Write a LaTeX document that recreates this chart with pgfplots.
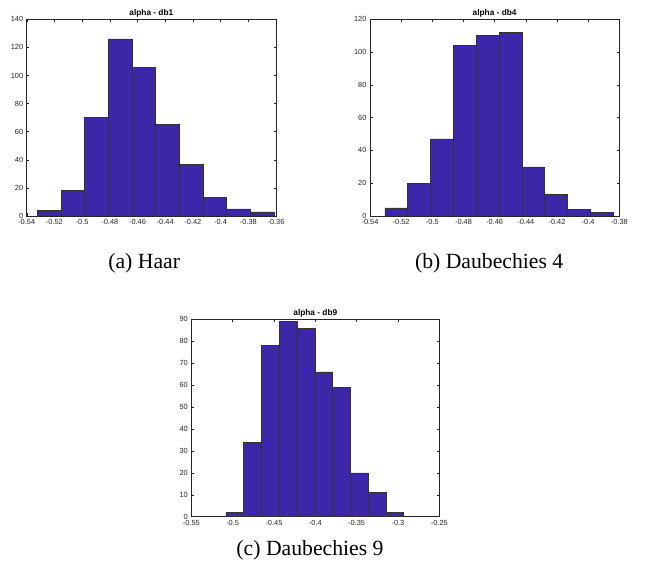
\documentclass[border=0pt]{standalone}
\usepackage{fontspec}
\setmainfont{Liberation Serif}
\newfontfamily\arial{Liberation Sans}
\usepackage{pgfplots}
\pgfplotsset{compat=1.18}
\definecolor{mgray}{RGB}{38,38,38}
\definecolor{barc}{RGB}{62,38,168}

\pgfplotsset{hist/.style={
    scale only axis, anchor=south west,
    width=249.3pt, height=196.7pt,
    ymin=0,
    axis line style={draw=mgray, line width=0.5pt},
    tick style={draw=mgray, line width=0.4pt},
    major tick length=2.5pt,
    tick align=inside,
    tick label style={font=\arial\fontsize{7.4}{8}\selectfont, text=mgray},
    /pgf/number format/assume math mode=true,
    title style={font=\arial\bfseries\fontsize{8.3}{9}\selectfont, yshift=-7pt},
    x tick label as interval=false,
}}
\pgfplotsset{histbar/.style={ybar interval, fill=barc, draw=black!80, line width=0.5pt}}

\begin{document}
\begin{tikzpicture}
\useasboundingbox (0,0) rectangle (646pt,577pt);

% (a) Haar
\begin{axis}[hist, at={(26.7pt,361pt)},
    title={alpha - db1},
    xmin=-0.54, xmax=-0.36, ymax=140,
    xtick={-0.54,-0.52,-0.50,-0.48,-0.46,-0.44,-0.42,-0.40,-0.38,-0.36},
    xticklabels={-0.54,-0.52,-0.5,-0.48,-0.46,-0.44,-0.42,-0.4,-0.38,-0.36},
    ytick={0,20,...,140}]
\addplot[histbar] coordinates {
    (-0.5323,4) (-0.5152,18) (-0.4981,70) (-0.4811,126) (-0.4640,106)
    (-0.4469,65) (-0.4298,37) (-0.4127,13) (-0.3957,5) (-0.3786,3)
    (-0.3615,3)};
\end{axis}

% (b) Daubechies 4
\begin{axis}[hist, at={(370pt,361pt)},
    title={alpha - db4},
    xmin=-0.54, xmax=-0.38, ymax=120,
    xtick={-0.54,-0.52,-0.50,-0.48,-0.46,-0.44,-0.42,-0.40,-0.38},
    xticklabels={-0.54,-0.52,-0.5,-0.48,-0.46,-0.44,-0.42,-0.4,-0.38},
    ytick={0,20,...,120}]
\addplot[histbar] coordinates {
    (-0.5304,5) (-0.5158,20) (-0.5011,47) (-0.4865,104) (-0.4718,110)
    (-0.4572,112) (-0.4425,30) (-0.4279,13) (-0.4132,4) (-0.3986,2)
    (-0.3839,2)};
\end{axis}

% (c) Daubechies 9
\begin{axis}[hist, at={(191.3pt,60.3pt)}, width=248pt, height=197.4pt,
    title={alpha - db9},
    xmin=-0.55, xmax=-0.25, ymax=90,
    xtick={-0.55,-0.50,-0.45,-0.40,-0.35,-0.30,-0.25},
    xticklabels={-0.55,-0.5,-0.45,-0.4,-0.35,-0.3,-0.25},
    ytick={0,10,...,90}]
\addplot[histbar] coordinates {
    (-0.5081,2) (-0.4866,34) (-0.4651,78) (-0.4436,89) (-0.4221,86)
    (-0.4006,66) (-0.3791,59) (-0.3576,20) (-0.3361,11) (-0.3146,2)
    (-0.2931,2)};
\end{axis}

\node[anchor=base, inner sep=0pt, font=\fontsize{21.7}{26}\selectfont] at (144.2pt,308pt) {(a)\ Haar};
\node[anchor=base, inner sep=0pt, font=\fontsize{21.7}{26}\selectfont] at (489.2pt,308pt) {(b)\ Daubechies 4};
\node[anchor=base, inner sep=0pt, font=\fontsize{21.7}{26}\selectfont] at (310pt,21pt) {(c)\ Daubechies 9};
\end{tikzpicture}
\end{document}
